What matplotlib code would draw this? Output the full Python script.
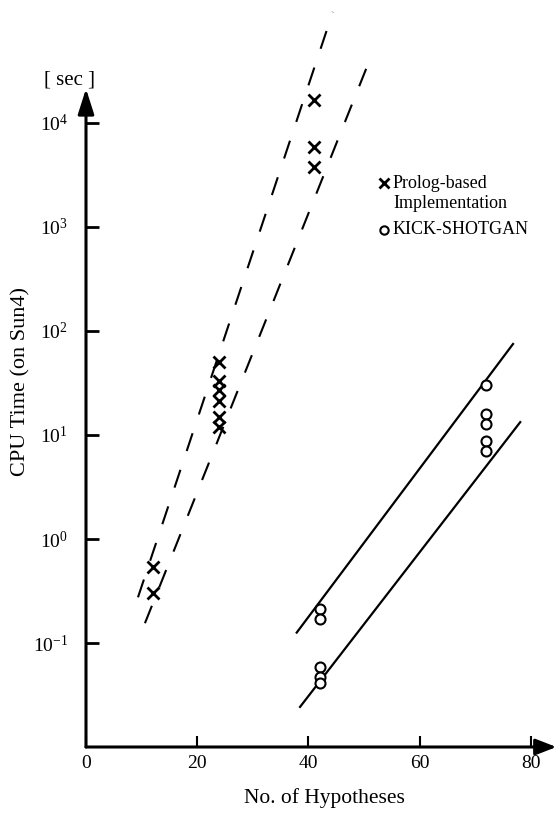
import matplotlib

matplotlib.use("Agg")

import matplotlib.pyplot as plt
from matplotlib.ticker import NullLocator

plt.rcParams["font.family"] = ["Liberation Serif", "DejaVu Serif"]
plt.rcParams["mathtext.fontset"] = "custom"
plt.rcParams["mathtext.rm"] = "Liberation Serif"
plt.rcParams["mathtext.it"] = "Liberation Serif:italic"

W, H = 559, 813

# measured points
prolog_x = [12, 12, 24, 24, 24, 24, 24, 24, 41, 41, 41]
prolog_y = [0.54, 0.30, 50, 33, 27, 21, 15, 12, 16600, 5900, 3800]

kick_x = [42, 42, 42, 42, 42, 72, 72, 72, 72, 72]
kick_y = [0.21, 0.17, 0.059, 0.047, 0.041, 30, 16, 12.8, 8.8, 7.0]

# fitted trend lines (end points)
prolog_hi_x = [9.35, 44.4]
prolog_hi_y = [0.275, 117000]
prolog_lo_x = [10.6, 50.9]
prolog_lo_y = [0.155, 38900]
kick_hi_x = [37.9, 76.8]
kick_hi_y = [0.126, 75]
kick_lo_x = [38.5, 78.1]
kick_lo_y = [0.0243, 13.3]

x_ticks = [0, 20, 40, 60, 80]
y_exps = [-1, 0, 1, 2, 3, 4]

fig = plt.figure(figsize=(W / 100, H / 100), dpi=100)
fig.patch.set_facecolor("white")

# axes placed so that x=0 sits at px 86, y=1e-2 at px 747
ax = fig.add_axes([86 / W, (H - 747) / H, (W - 86) / W, 747 / H])
ax.set_yscale("log")
ax.set_xlim(0, (W - 86) / 5.56)
ax.set_ylim(1e-2, 10 ** (4 + 123 / 104))
for s in ax.spines.values():
    s.set_visible(False)
ax.patch.set_alpha(0)

# axis lines with arrow heads
ax.annotate("", xy=(0, 10 ** 4.33), xytext=(0, 1e-2), annotation_clip=False,
            arrowprops=dict(arrowstyle="-|>,head_length=1.1,head_width=0.35",
                            lw=2.2, color="black", shrinkA=0, shrinkB=0,
                            mutation_scale=14))
ax.annotate("", xy=(84.6, 1e-2), xytext=(0, 1e-2), annotation_clip=False,
            arrowprops=dict(arrowstyle="-|>,head_length=0.9,head_width=0.35",
                            lw=2.2, color="black", shrinkA=0, shrinkB=0,
                            mutation_scale=14))

ax.set_xticks(x_ticks)
ax.set_xticklabels([str(v) for v in x_ticks])
ax.set_yticks([10.0 ** e for e in y_exps])
ax.set_yticklabels([r"$\mathrm{10^{%d}}$" % e for e in y_exps])
ax.yaxis.set_minor_locator(NullLocator())
ax.tick_params(axis="y", direction="in", length=9, width=2, pad=13,
               labelsize=14)
ax.tick_params(axis="x", direction="in", length=8, width=1.5, pad=6,
               labelsize=14)

# trend lines
for xs, ys in [(prolog_hi_x, prolog_hi_y), (prolog_lo_x, prolog_lo_y)]:
    ax.plot(xs, ys, color="black", lw=1.5, dashes=(9, 9.5),
            clip_on=False, solid_capstyle="butt")
for xs, ys in [(kick_hi_x, kick_hi_y), (kick_lo_x, kick_lo_y)]:
    ax.plot(xs, ys, color="black", lw=1.6, clip_on=False)

# points
ax.plot(prolog_x, prolog_y, "x", color="black", ms=8.5, mew=2.0,
        clip_on=False)
ax.plot(kick_x, kick_y, "o", mfc="white", mec="black", ms=7.2, mew=1.5,
        clip_on=False)


def px(x, y):
    return x / W, 1 - y / H


# legend, drawn by hand
ax.plot(*px(384, 183), "x", color="black", ms=7, mew=2.0,
        transform=fig.transFigure, clip_on=False)
fig.text(*px(393, 183), "Prolog-based", fontsize=13, ha="left",
         va="center")
fig.text(*px(393, 203), "Implementation", fontsize=13, ha="left",
         va="center")
ax.plot(*px(384, 230), "o", mfc="white", mec="black", ms=6, mew=1.5,
        transform=fig.transFigure, clip_on=False)
fig.text(*px(393, 230), "KICK-SHOTGAN", fontsize=13, ha="left",
         va="center")

# axis titles
fig.text(*px(69, 80), "[ sec ]", fontsize=15, ha="center", va="center")
fig.text(*px(324, 798), "No. of Hypotheses", fontsize=15.5, ha="center",
         va="center")
fig.text(*px(21, 381), "CPU Time (on Sun4)", fontsize=16, ha="center",
         va="center", rotation=90)

fig.savefig("out.png", dpi=100, facecolor="white")
